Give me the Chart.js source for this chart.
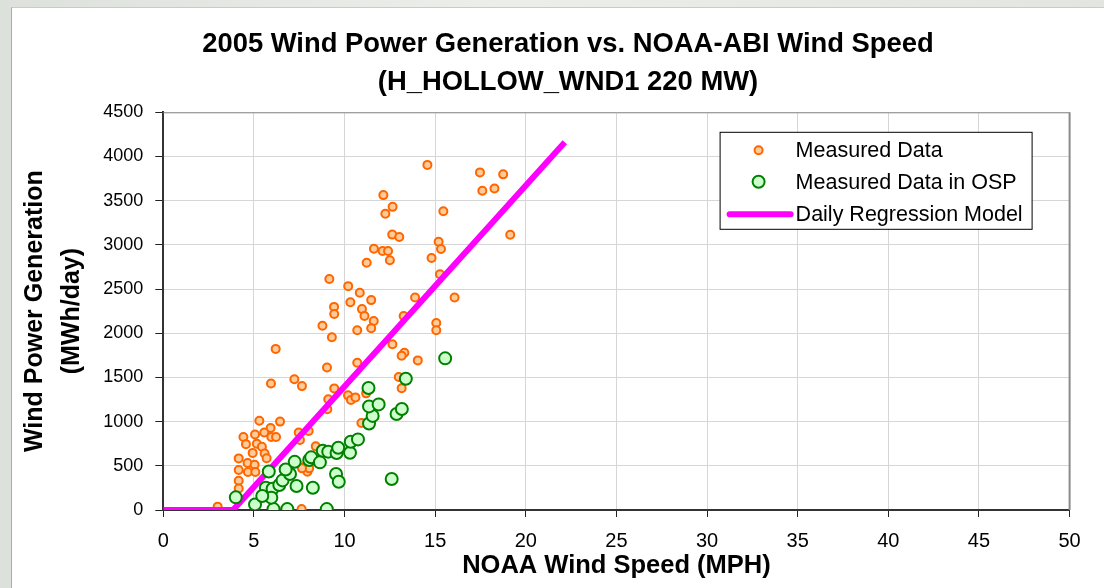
<!DOCTYPE html>
<html>
<head>
<meta charset="utf-8">
<script src="https://cdn.jsdelivr.net/npm/chart.js@4.4.1/dist/chart.umd.min.js"></script>
<style>
html, body { margin: 0; padding: 0; }
body { width: 1104px; height: 588px; overflow: hidden; position: relative;
       background: linear-gradient(90deg, #dde1dc, #eceeea 45%, #e2e5e0); }
#panel { position: absolute; left: 11px; top: 7px; width: 1093px; height: 581px;
         background: #fff; border-left: 1px solid #a9aca8; border-top: 1px solid #c9cbc8; }
#c { position: absolute; left: 0; top: 0; }
</style>
</head>
<body>
<div id="panel"><canvas id="c" width="1092" height="580"></canvas></div>
<script>
// measured daily values (wind speed MPH, generation MWh/day)
const measuredSpeed = [14.57, 17.47, 18.75, 17.60, 18.27, 12.14, 12.65, 12.25, 15.45, 12.63,
  13.02, 19.14, 15.19, 15.32, 11.62, 12.10, 12.40, 12.50, 14.80, 11.22,
  15.26, 9.16, 10.20, 10.84, 10.32, 11.47, 9.42, 10.96, 9.43, 11.10,
  11.61, 11.47, 10.70, 8.78, 9.30, 16.07, 13.89, 15.06, 15.06, 13.26,
  12.64, 13.30, 13.15, 14.04, 10.70, 9.03, 6.20, 12.99, 13.15, 9.43,
  7.23, 7.65, 5.94, 10.19, 10.35, 10.60, 9.10, 9.05, 11.95, 11.19,
  10.93, 5.30, 6.44, 5.92, 5.57, 5.06, 4.42, 4.56, 5.96, 6.22,
  5.16, 5.44, 5.59, 5.70, 4.93, 4.16, 4.65, 5.04, 4.16, 4.67,
  5.08, 4.16, 4.16, 7.47, 8.02, 7.54, 8.41, 7.80, 7.95, 8.05,
  7.65, 3.00, 7.63];
const measuredPower = [3905, 3820, 3798, 3612, 3638, 3563, 3430, 3353, 3380, 3116,
  3088, 3115, 3035, 2954, 2956, 2931, 2931, 2826, 2852, 2797,
  2668, 2613, 2533, 2458, 2350, 2375, 2298, 2273, 2217, 2196,
  2138, 2057, 2033, 2085, 1955, 2405, 2405, 2115, 2034, 2196,
  1876, 1779, 1745, 1693, 1666, 1612, 1823, 1505, 1378, 1376,
  1480, 1402, 1431, 1297, 1244, 1274, 1253, 1139, 1214, 1320,
  984, 1010, 1000, 928, 877, 854, 825, 745, 826, 826,
  750, 716, 640, 585, 646, 584, 532, 513, 452, 430,
  430, 330, 243, 877, 893, 792, 720, 490, 433, 471,
  471, 38, 10];

// days in OSP
const ospSpeed = [4.00, 5.06, 6.08, 6.84, 9.02, 5.66, 6.03, 5.96, 5.46, 6.40,
  6.58, 5.82, 6.99, 6.75, 7.35, 7.25, 8.25, 8.05, 8.16, 8.64,
  8.80, 9.10, 9.56, 9.65, 9.53, 9.68, 10.30, 10.34, 10.74, 11.35,
  11.55, 11.35, 11.88, 12.60, 12.87, 13.16, 13.38, 11.32, 15.55];
const ospPower = [143, 62, 10, 10, 10, 252, 240, 140, 158, 283,
  335, 435, 407, 458, 271, 545, 252, 566, 596, 539,
  671, 660, 645, 705, 407, 320, 648, 773, 799, 978,
  1065, 1172, 1195, 350, 1086, 1142, 1485, 1380, 1716];

// regression model
const modelSpeed = [0, 3.85, 22.15];
const modelPower = [0, 0, 4160];

const toPoints = (xs, ys) => xs.map((x, i) => ({ x: x, y: ys[i] }));

Chart.defaults.font.family = "'Liberation Sans', Arial, sans-serif";
Chart.defaults.color = '#000';

// gray frame on top and right of the plot area
const frame = {
  id: 'frame',
  beforeDatasetsDraw(chart) {
    const { ctx, chartArea: a } = chart;
    ctx.save();
    ctx.strokeStyle = '#8a8a8a';
    ctx.lineWidth = 1;
    ctx.beginPath();
    ctx.moveTo(a.left, a.top + 0.5);
    ctx.lineTo(a.right, a.top + 0.5);
    ctx.stroke();
    ctx.lineWidth = 2;
    ctx.beginPath();
    ctx.moveTo(a.right, a.top);
    ctx.lineTo(a.right, a.bottom);
    ctx.stroke();
    ctx.restore();
  }
};

// boxed legend inside the plot
const boxLegend = {
  id: 'boxLegend',
  afterDraw(chart) {
    const { ctx, chartArea: a } = chart;
    const x0 = a.right - 350, y0 = a.top + 19.5, w = 312, h = 97;
    const rows = [18.5, 50, 82.5];
    ctx.save();
    ctx.fillStyle = '#fff';
    ctx.fillRect(x0, y0, w, h);
    ctx.strokeStyle = '#000';
    ctx.lineWidth = 1;
    ctx.strokeRect(x0 + 0.5, y0 + 0.5, w, h);
    ctx.font = "21.5px 'Liberation Sans', Arial, sans-serif";
    ctx.textBaseline = 'middle';
    chart.data.datasets.forEach((ds, i) => {
      const y = y0 + rows[i];
      if (ds.type === 'line') {
        ctx.strokeStyle = ds.borderColor;
        ctx.lineWidth = ds.borderWidth;
        ctx.lineCap = 'round';
        ctx.beginPath();
        ctx.moveTo(x0 + 10, y);
        ctx.lineTo(x0 + 71, y);
        ctx.stroke();
      } else {
        ctx.beginPath();
        ctx.arc(x0 + 39, y, ds.pointRadius, 0, Math.PI * 2);
        ctx.fillStyle = ds.backgroundColor;
        ctx.fill();
        ctx.strokeStyle = ds.borderColor;
        ctx.lineWidth = ds.borderWidth;
        ctx.stroke();
      }
      ctx.fillStyle = '#000';
      ctx.fillText(ds.label, x0 + 76, y + 1);
    });
    ctx.restore();
  }
};

new Chart(document.getElementById('c'), {
  type: 'scatter',
  data: {
    datasets: [{
      label: 'Measured Data',
      data: toPoints(measuredSpeed, measuredPower),
      pointRadius: 4,
      borderWidth: 2,
      borderColor: '#ff6600',
      backgroundColor: '#ffcc99',
      order: 3
    }, {
      label: 'Measured Data in OSP',
      data: toPoints(ospSpeed, ospPower),
      pointRadius: 6,
      borderWidth: 2,
      borderColor: '#008000',
      backgroundColor: '#ccffcc',
      order: 1
    }, {
      type: 'line',
      label: 'Daily Regression Model',
      data: toPoints(modelSpeed, modelPower),
      borderColor: '#ff00ff',
      borderWidth: 6,
      pointRadius: 0,
      fill: false,
      tension: 0,
      order: 2
    }]
  },
  options: {
    responsive: false,
    animation: false,
    devicePixelRatio: 1,
    layout: { padding: { left: 54.4, right: 34.4, top: 0, bottom: 0 } },
    plugins: {
      legend: { display: false },
      tooltip: { enabled: false },
      title: {
        display: true,
        text: ['2005 Wind Power Generation vs. NOAA-ABI Wind Speed', '(H_HOLLOW_WND1 220 MW)'],
        font: { size: 27.4, weight: 'bold', lineHeight: '38px' },
        color: '#000',
        padding: { top: 17, bottom: 11.3 }
      }
    },
    scales: {
      x: {
        type: 'linear',
        min: 0,
        max: 50,
        afterFit: s => { s.height = 78; },
        ticks: { stepSize: 5, font: { size: 20 }, padding: 12, color: '#000' },
        grid: { color: '#d6d6d6', tickColor: '#222', tickLength: 7 },
        border: { color: '#333', width: 2 },
        title: {
          display: true,
          text: 'NOAA Wind Speed (MPH)',
          font: { size: 25.5, weight: 'bold' },
          padding: { top: 0, bottom: 7 }
        }
      },
      y: {
        min: 0,
        max: 4500,
        afterFit: s => { s.width = 96.9; },
        ticks: { stepSize: 500, font: { size: 18 }, padding: 12, color: '#000',
                 callback: v => String(v) },
        grid: { color: '#d6d6d6', tickColor: '#222', tickLength: 8 },
        border: { color: '#333', width: 2 },
        title: {
          display: true,
          text: ['Wind Power Generation', '(MWh/day)'],
          font: { size: 25, weight: 'bold', lineHeight: '37px' },
          padding: { top: -49.5, bottom: 0 }
        }
      }
    }
  },
  plugins: [frame, boxLegend]
});
</script>
</body>
</html>
